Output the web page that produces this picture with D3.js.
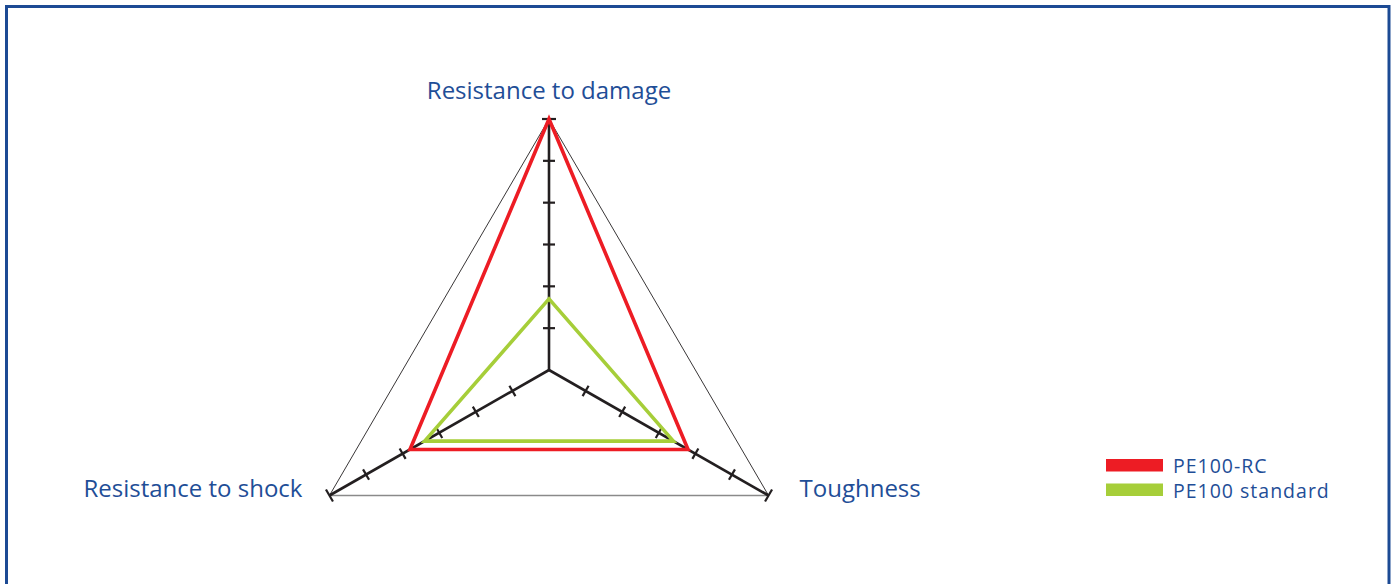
<!DOCTYPE html>
<html>
<head>
<meta charset="utf-8">
<script src="https://cdn.jsdelivr.net/npm/d3@7"></script>
<style>
  html, body { margin: 0; padding: 0; background: #fff; overflow: hidden; }
  svg { display: block; font-family: "Open Sans", sans-serif; }
</style>
</head>
<body>
<div id="chart"></div>
<script>
// axes, clockwise from the top
const axes = ['Resistance to damage', 'Toughness', 'Resistance to shock'];
const tickValues = [1, 2, 3, 4, 5, 6];
const maxValue = 6;

const seriesNames = ['PE100-RC', 'PE100 standard'];
const seriesColors = ['#ed1c24', '#a6ce39'];
const rcValues = [6, 3.8, 3.8];
const standardValues = [1.7, 3.4, 3.4];

const config = {
  width: 1395,
  height: 584,
  cx: 549,
  cy: 370,
  radius: 251,
  xStretch: 1.01
};

const svg = d3.select('#chart').append('svg')
  .attr('width', config.width)
  .attr('height', config.height);

// frame (bottom edge runs off the page)
svg.append('rect')
  .attr('x', 6.5).attr('y', 6.5)
  .attr('width', 1382.5).attr('height', 640)
  .attr('fill', 'none')
  .attr('stroke', '#1c4a94')
  .attr('stroke-width', 3);

const r = d3.scaleLinear().domain([0, maxValue]).range([0, config.radius]);
const angle = d3.scalePoint().domain(axes).range([0, 4 * Math.PI / 3]);

const point = (axis, v) => {
  const a = angle(axis);
  return [config.cx + config.xStretch * r(v) * Math.sin(a), config.cy - r(v) * Math.cos(a)];
};

const g = svg.append('g');

// outer triangle
const outer = axes.map(a => point(a, maxValue));
g.append('line')
  .attr('x1', outer[1][0]).attr('y1', outer[1][1])
  .attr('x2', outer[2][0]).attr('y2', outer[2][1])
  .attr('stroke', '#8a8a8a').attr('stroke-width', 1.6);
[[0, 1], [0, 2]].forEach(([i, j]) => {
  g.append('line')
    .attr('x1', outer[i][0]).attr('y1', outer[i][1])
    .attr('x2', outer[j][0]).attr('y2', outer[j][1])
    .attr('stroke', '#231f20').attr('stroke-width', 0.9);
});

// axis spokes with ticks
axes.forEach(axis => {
  const end = point(axis, maxValue);
  g.append('line')
    .attr('x1', config.cx).attr('y1', config.cy)
    .attr('x2', end[0]).attr('y2', end[1])
    .attr('stroke', '#231f20').attr('stroke-width', 2.6);

  const a = angle(axis);
  const px = Math.cos(a), py = Math.sin(a); // perpendicular direction
  tickValues.forEach(t => {
    const [x, y] = point(axis, t);
    const half = t === maxValue ? 7 : 6;
    g.append('line')
      .attr('x1', x - px * half).attr('y1', y - py * half)
      .attr('x2', x + px * half).attr('y2', y + py * half)
      .attr('stroke', '#231f20').attr('stroke-width', 2.2);
  });
});

// series polygons
const line = d3.line();
[standardValues, rcValues].forEach((vals, i) => {
  const idx = i === 0 ? 1 : 0;
  g.append('path')
    .attr('d', line(axes.map((a, k) => point(a, vals[k]))) + 'Z')
    .attr('fill', 'none')
    .attr('stroke', seriesColors[idx])
    .attr('stroke-width', 3.6)
    .attr('stroke-linejoin', 'miter');
});

// axis labels
const labelColor = '#1f4e97';
const topEnd = point(axes[0], maxValue);
svg.append('text')
  .attr('x', topEnd[0]).attr('y', topEnd[1] - 20)
  .attr('text-anchor', 'middle')
  .attr('font-size', 24).attr('fill', labelColor)
  .text(axes[0]);

const rightEnd = point(axes[1], maxValue);
svg.append('text')
  .attr('x', rightEnd[0] + 31).attr('y', rightEnd[1] + 1)
  .attr('text-anchor', 'start')
  .attr('font-size', 24).attr('fill', labelColor)
  .text(axes[1]);

const leftEnd = point(axes[2], maxValue);
svg.append('text')
  .attr('x', leftEnd[0] - 27).attr('y', leftEnd[1] + 1)
  .attr('text-anchor', 'end')
  .attr('font-size', 24).attr('fill', labelColor)
  .text(axes[2]);

// legend
const legend = svg.append('g').attr('transform', 'translate(1106,459)');
seriesNames.forEach((name, i) => {
  legend.append('rect')
    .attr('x', 0).attr('y', i * 24.5)
    .attr('width', 57).attr('height', 12.5)
    .attr('fill', seriesColors[i]);
  legend.append('text')
    .attr('x', 67).attr('y', i * 25 + 13.5)
    .attr('font-size', 19.5)
    .attr('letter-spacing', 1)
    .attr('fill', labelColor)
    .text(name);
});
</script>
</body>
</html>
